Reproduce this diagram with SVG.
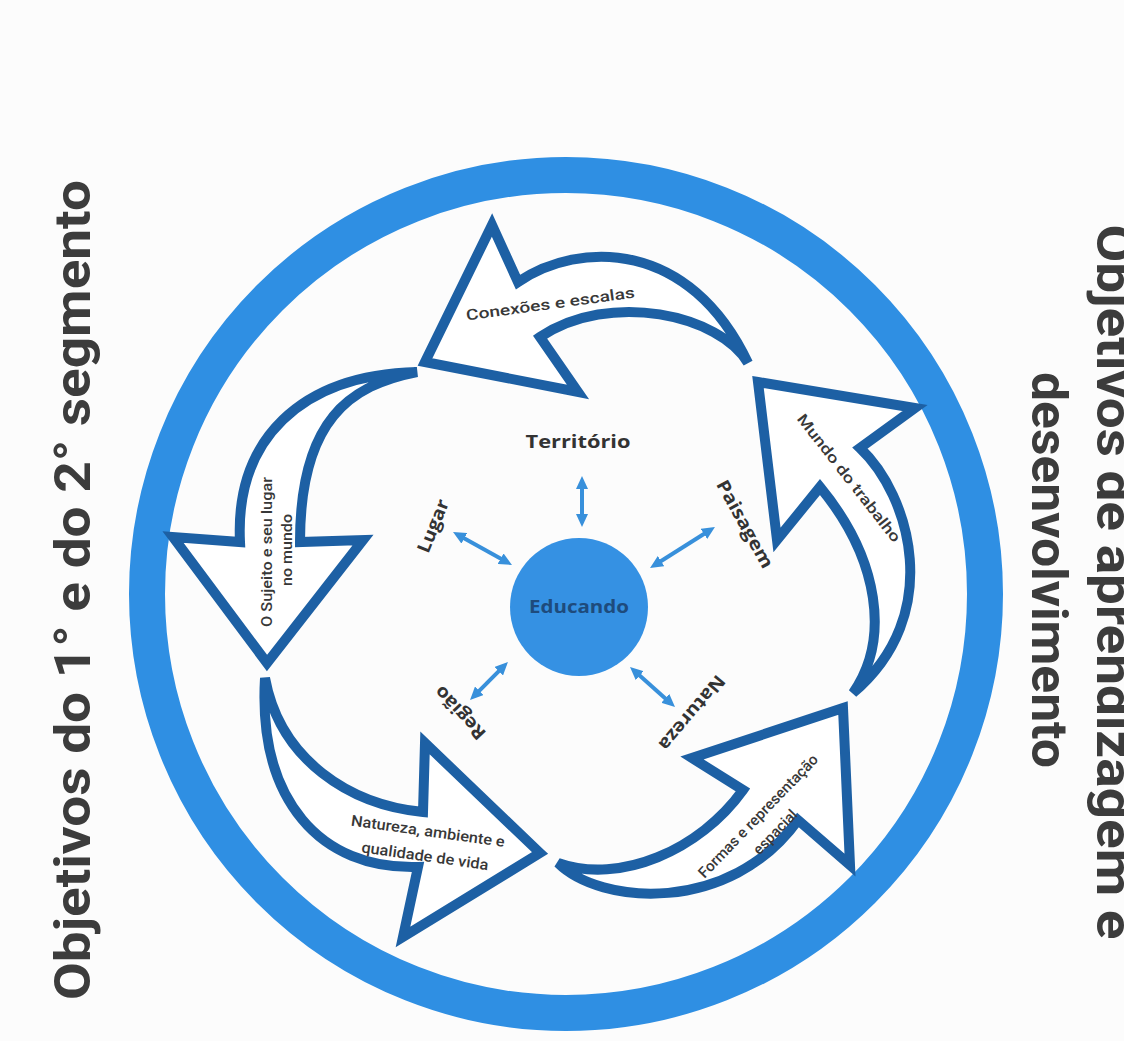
<svg xmlns="http://www.w3.org/2000/svg" width="1124" height="1041" viewBox="0 0 1124 1041">
  <defs>
    <style>
      .bg { fill: #fcfcfc; }
      .ring { fill: none; stroke: #2f8fe3; stroke-width: 36; }
      .cycle { fill: #ffffff; stroke: #1d60a4; stroke-width: 10; stroke-linejoin: miter; stroke-miterlimit: 4; }
      .alabel { font-family: Roboto, "Liberation Sans", sans-serif; font-weight: 500; font-size: 15px; fill: #383838; text-anchor: middle; }
      .concept { font-family: "Open Sans", "DejaVu Sans", sans-serif; font-weight: 700; font-size: 18px; fill: #333333; text-anchor: middle; }
      .title { font-family: Roboto, "Liberation Sans", sans-serif; font-weight: 700; font-size: 50px; fill: #3c3c3c; text-anchor: middle; }
      .link { fill: none; stroke: #3890db; stroke-width: 4; }
    </style>
    <marker id="ah" markerUnits="userSpaceOnUse" markerWidth="14" markerHeight="12" refX="5" refY="6" orient="auto-start-reverse">
      <path d="M0,0 L13,6 L0,12 Z" fill="#3890db"/>
    </marker>
  </defs>

  <rect class="bg" x="0" y="0" width="1124" height="1041"/>

  <g id="titles">
    <text class="title" transform="translate(90,590) rotate(-90)" textLength="820" lengthAdjust="spacingAndGlyphs">Objetivos do 1° e do 2° segmento</text>
    <text class="title" transform="translate(1097,582) rotate(90)" textLength="715" lengthAdjust="spacingAndGlyphs">Objetivos de aprendizagem e</text>
    <text class="title" transform="translate(1032,570) rotate(90)" textLength="396" lengthAdjust="spacingAndGlyphs">desenvolvimento</text>
  </g>

  <g id="outer-ring">
    <circle class="ring" cx="566" cy="594" r="419"/>
  </g>

  <g id="arrow-conexoes">
    <path class="cycle" d="M425,362 L492,225 L518,282 C580,240 690,240 748,363 C720,315 610,290 540,337 L578,392 Z"/>
    <text class="alabel" transform="translate(551,309) rotate(-7.8)" font-size="17" textLength="170" lengthAdjust="spacingAndGlyphs">Conexões e escalas</text>
  </g>

  <g id="arrow-mundo">
    <path class="cycle" d="M758,382 L915,408 L860,448 C910,495 945,615 853,693 C890,640 880,560 820,487 L777,540 Z"/>
    <text class="alabel" transform="translate(849,478) rotate(52)" dy="0.35em" font-size="16" textLength="158" lengthAdjust="spacingAndGlyphs">Mundo do trabalho</text>
  </g>

  <g id="arrow-formas">
    <path class="cycle" d="M843,708 L692,758 L743,790 C700,850 620,885 558,863 C600,905 730,915 798,820 L850,865 Z"/>
    <text class="alabel" transform="translate(758,816) rotate(-46)" dy="0.35em" textLength="165" lengthAdjust="spacingAndGlyphs">Formas e representação</text>
    <text class="alabel" transform="translate(775,832) rotate(-46)" dy="0.35em" textLength="56" lengthAdjust="spacingAndGlyphs">espacial</text>
  </g>

  <g id="arrow-natureza">
    <path class="cycle" d="M540,853 L425,743 L423,812 C350,805 280,760 265,678 C258,800 320,870 418,867 L403,937 Z"/>
    <text class="alabel" transform="translate(428,831) rotate(8)" dy="0.35em" textLength="155" lengthAdjust="spacingAndGlyphs">Natureza, ambiente e</text>
    <text class="alabel" transform="translate(425,856) rotate(8)" dy="0.35em" textLength="128" lengthAdjust="spacingAndGlyphs">qualidade de vida</text>
  </g>

  <g id="arrow-sujeito">
    <path class="cycle" d="M267,663 L173,537 L240,542 C235,440 300,375 417,372 C350,385 300,420 300,542 L363,540 Z"/>
    <text class="alabel" transform="translate(267,552) rotate(-90)" dy="0.35em" textLength="150" lengthAdjust="spacingAndGlyphs">O Sujeito e seu lugar</text>
    <text class="alabel" transform="translate(287,550) rotate(-90)" dy="0.35em" textLength="72" lengthAdjust="spacingAndGlyphs">no mundo</text>
  </g>

  <g id="educando">
    <circle cx="579" cy="607" r="69" fill="#3591e3"/>
    <text x="579" y="607" dy="0.35em" font-family="'Open Sans', 'DejaVu Sans', sans-serif" font-weight="700" font-size="17" fill="#1e4b7c" text-anchor="middle" textLength="100" lengthAdjust="spacingAndGlyphs">Educando</text>
  </g>

  <g id="label-territorio">
    <text class="concept" transform="translate(578,442)" dy="0.35em" textLength="105" lengthAdjust="spacingAndGlyphs">Território</text>
  </g>
  <g id="label-lugar">
    <text class="concept" transform="translate(433,526) rotate(-68)" dy="0.35em" textLength="56" lengthAdjust="spacingAndGlyphs">Lugar</text>
  </g>
  <g id="label-paisagem">
    <text class="concept" transform="translate(745,524) rotate(61)" dy="0.35em" textLength="98" lengthAdjust="spacingAndGlyphs">Paisagem</text>
  </g>
  <g id="label-natureza">
    <text class="concept" transform="translate(692,713) rotate(130)" dy="0.35em" textLength="92" lengthAdjust="spacingAndGlyphs">Natureza</text>
  </g>
  <g id="label-regiao">
    <text class="concept" transform="translate(460,713) rotate(227)" dy="0.35em" textLength="66" lengthAdjust="spacingAndGlyphs">Região</text>
  </g>

  <g id="connectors">
    <path class="link" d="M582,484 L582,519" marker-start="url(#ah)" marker-end="url(#ah)"/>
    <path class="link" d="M460,535.9 L505,561.1" marker-start="url(#ah)" marker-end="url(#ah)"/>
    <path class="link" d="M708.2,531.3 L656.8,563.7" marker-start="url(#ah)" marker-end="url(#ah)"/>
    <path class="link" d="M636,672.3 L669,701.7" marker-start="url(#ah)" marker-end="url(#ah)"/>
    <path class="link" d="M502.3,667.7 L475.7,694.3" marker-start="url(#ah)" marker-end="url(#ah)"/>
  </g>
</svg>
